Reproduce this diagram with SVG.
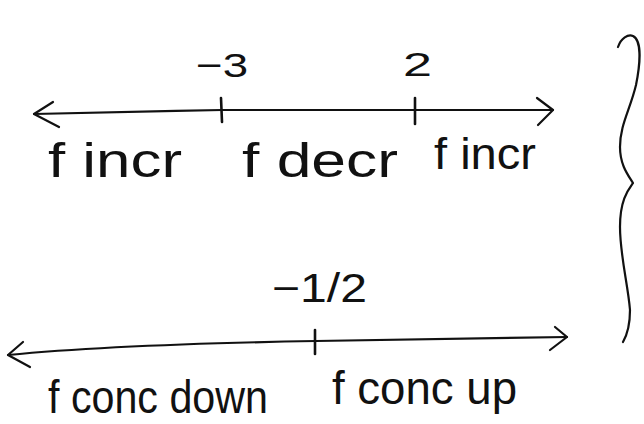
<svg xmlns="http://www.w3.org/2000/svg" width="644" height="424" viewBox="0 0 644 424">
<style>
.ln{fill:none;stroke:#111;stroke-width:2.2;stroke-linecap:round;stroke-linejoin:round}
.tk{fill:none;stroke:#111;stroke-width:2.6;stroke-linecap:round}
.t{font-family:"Liberation Sans",Arial,sans-serif;fill:#111}
</style>
<rect width="644" height="424" fill="#fff"/>
<g id="connectors">
  <g id="line1">
    <path class="ln" d="M34,114 C100,113 160,111 222,110 L553,110"/>
    <path class="ln" d="M53,102 L34,114 L59,127"/>
    <path class="ln" d="M537,98 L553,110 L538,125"/>
  </g>
  <g id="line2">
    <path class="ln" d="M8,355 C80,348 200,343 316,341 C420,339 500,338 567,337"/>
    <path class="ln" d="M23,342 L8,355 L30,367"/>
    <path class="ln" d="M555,327 L567,337 L550,350"/>
  </g>
</g>
<g id="tick-neg3">
  <path class="tk" d="M221,98 L222,122"/>
  <text class="t" x="196" y="77" font-size="34" textLength="52" lengthAdjust="spacingAndGlyphs">−3</text>
</g>
<g id="tick-2">
  <path class="tk" d="M415,98 L415,124"/>
  <text class="t" x="403" y="76" font-size="34" textLength="29" lengthAdjust="spacingAndGlyphs">2</text>
</g>
<g id="tick-neg-half">
  <path class="tk" d="M315,330 L315,354"/>
  <text class="t" x="272" y="302" font-size="40" textLength="95" lengthAdjust="spacingAndGlyphs">−1/2</text>
</g>
<g id="label-f-incr-left">
  <text class="t" x="48" y="177" font-size="48" textLength="134" lengthAdjust="spacingAndGlyphs">f incr</text>
</g>
<g id="label-f-decr">
  <text class="t" x="242" y="177" font-size="48" textLength="156" lengthAdjust="spacingAndGlyphs">f decr</text>
</g>
<g id="label-f-incr-right">
  <text class="t" x="434" y="169" font-size="45" textLength="102" lengthAdjust="spacingAndGlyphs">f incr</text>
</g>
<g id="label-f-conc-down">
  <text class="t" x="48" y="413" font-size="46" textLength="220" lengthAdjust="spacingAndGlyphs">f conc down</text>
</g>
<g id="label-f-conc-up">
  <text class="t" x="332" y="404" font-size="46" textLength="185" lengthAdjust="spacingAndGlyphs">f conc up</text>
</g>
<g id="brace">
  <path class="ln" stroke-width="2.6" d="M618,47 C621,38 628,34 633,36 C641,40 641,60 636,85 C630,110 620,125 620,147 C620,165 628,175 633,183 C628,190 620,200 620,227 C620,255 628,285 630,310 C630,325 627,335 623,342"/>
</g>
</svg>
